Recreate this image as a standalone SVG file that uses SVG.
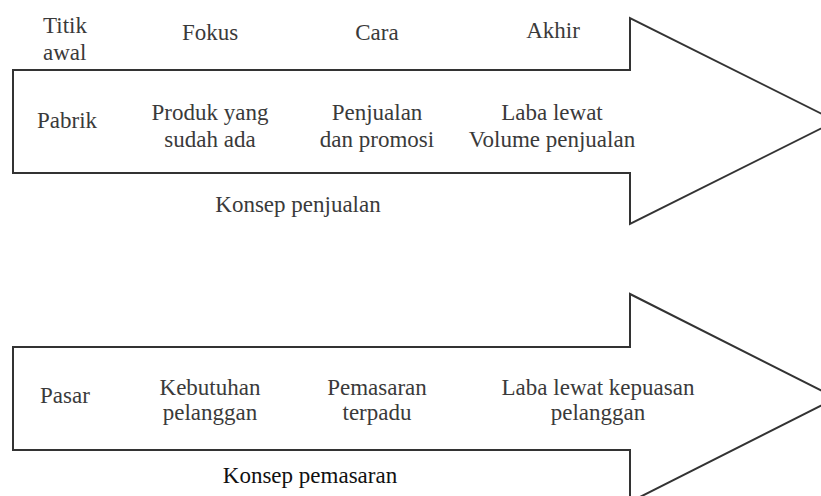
<svg xmlns="http://www.w3.org/2000/svg" width="821" height="496" viewBox="0 0 821 496" font-family="Liberation Serif, serif" font-size="23">
<style>
.arrow{fill:#fff;stroke:#333;stroke-width:2;stroke-linejoin:miter}
text{fill:#3a3a3a;text-anchor:middle}
.cap{fill:#111}
.left{text-anchor:start}
</style>
<rect width="821" height="496" fill="#fff"/>
<g id="connectors">
<path id="arrow-penjualan" class="arrow" d="M13,70 H630 V18 L836,121 L630,224 V173 H13 Z"/>
<path id="arrow-pemasaran" class="arrow" d="M13,347 H630 V294 L836,398 L630,502 V450 H13 Z"/>
</g>
<g id="headers" font-family="Liberation Serif, serif">
<text class="left" x="43" y="33" font-family="Liberation Serif">Titik</text>
<text class="left" x="43" y="60" font-family="Liberation Serif">awal</text>
<text x="210" y="40" font-family="Liberation Serif">Fokus</text>
<text x="377" y="40" font-family="Liberation Serif">Cara</text>
<text x="553" y="38" font-family="Liberation Serif">Akhir</text>
</g>
<g id="node-pabrik" font-family="Liberation Serif"><text x="67" y="128">Pabrik</text></g>
<g id="node-produk" font-family="Liberation Serif"><text x="210" y="120">Produk yang</text><text x="210" y="147">sudah ada</text></g>
<g id="node-penjualan" font-family="Liberation Serif"><text x="377" y="120">Penjualan</text><text x="377" y="147">dan promosi</text></g>
<g id="node-laba" font-family="Liberation Serif"><text x="552" y="120">Laba lewat</text><text x="552" y="147">Volume penjualan</text></g>
<g id="label-penjualan" font-family="Liberation Serif"><text x="298" y="212">Konsep penjualan</text></g>
<g id="node-pasar" font-family="Liberation Serif"><text x="65" y="403">Pasar</text></g>
<g id="node-kebutuhan" font-family="Liberation Serif"><text x="210" y="395">Kebutuhan</text><text x="210" y="420">pelanggan</text></g>
<g id="node-pemasaran" font-family="Liberation Serif"><text x="377" y="395">Pemasaran</text><text x="377" y="420">terpadu</text></g>
<g id="node-kepuasan" font-family="Liberation Serif"><text x="598" y="395">Laba lewat kepuasan</text><text x="598" y="420">pelanggan</text></g>
<g id="label-pemasaran" font-family="Liberation Serif"><text class="cap" x="310" y="483">Konsep pemasaran</text></g>
</svg>
